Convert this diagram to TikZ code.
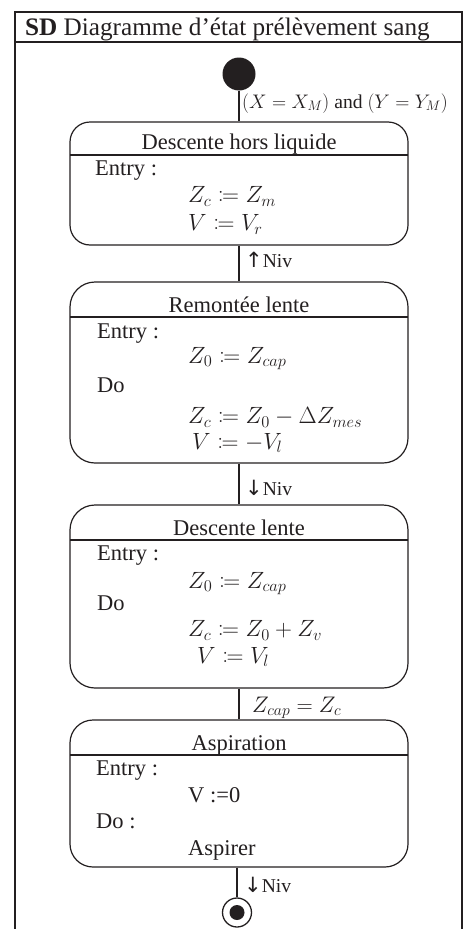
\RequirePackage{fix-cm}
\documentclass[tikz,border=0pt]{standalone}
\usepackage{mathtools}
\usepackage{fontspec}
\setmainfont{Liberation Serif}
\newfontfamily\arrowfont{DejaVu Sans}
\definecolor{ink}{HTML}{231F20}
\begin{document}
\begin{tikzpicture}[x=1pt,y=-1pt,
  frame/.style={draw=ink, line width=1.8pt},
  statebox/.style={draw=ink, line width=1.2pt, rounded corners=#1, minimum width=338pt, inner sep=0pt},
  sep/.style={draw=ink, line width=1.1pt},
  conn/.style={draw=ink, line width=1.3pt},
  txt/.style={anchor=base west, inner sep=0pt, text=ink, font=\fontsize{22.5}{26}\selectfont},
  mtxt/.style={anchor=base west, inner sep=0pt, text=ink, font=\fontsize{23.5}{28}\selectfont},
  ttl/.style={anchor=base, inner sep=0pt, text=ink, font=\fontsize{22.5}{26}\selectfont},
  lbl/.style={anchor=base west, inner sep=0pt, text=ink, font=\fontsize{19.6}{24}\selectfont},
  initial/.style={circle, fill=ink, minimum size=33pt, inner sep=0pt},
  finalring/.style={circle, draw=ink, line width=1.3pt, minimum size=29pt, inner sep=0pt},
  finaldot/.style={circle, fill=ink, minimum size=15pt, inner sep=0pt}
]
\newcommand{\upar}{{\arrowfont\fontsize{21}{24}\selectfont ↑}}
\newcommand{\dnar}{{\arrowfont\fontsize{21}{24}\selectfont ↓}}
\useasboundingbox (0,0) rectangle (464,929);
% frame
\draw[frame] (15,929) -- (15,12) -- (462,12) -- (462,929);
\draw[frame] (15,42) -- (462,42);
\node[anchor=base west, inner sep=0pt, text=ink, font=\fontsize{25.2}{30}\selectfont] (title) at (25,35) {\textbf{SD} Diagramme d’état prélèvement sang};

% initial
\node[initial] (init) at (239,74) {};

% state 1
\node[statebox=20pt, minimum height=123pt] (s1) at (239,183.5) {};
\draw[sep] (70,155) -- (408,155);
\node[ttl] (s1t) at (239,149) {Descente hors liquide};
\node[txt] (s1a) at (95,175) {Entry :};
\node[mtxt] (s1b) at (188,202.5) {$Z_c \coloneqq Z_m$};
\node[mtxt] (s1c) at (188,230.5) {$V \coloneqq V_r$};

% state 2
\node[statebox=25pt, minimum height=181pt] (s2) at (239,372.5) {};
\draw[sep] (70,317) -- (408,317);
\node[ttl] (s2t) at (239,312) {Remontée lente};
\node[txt] (s2a) at (97,338) {Entry :};
\node[mtxt] (s2b) at (188,363) {$Z_0 \coloneqq Z_{cap}$};
\node[txt] (s2c) at (97,392) {Do};
\node[mtxt] (s2d) at (188,423.5) {$Z_c \coloneqq Z_0 - \Delta Z_{mes}$};
\node[mtxt] (s2e) at (192,449) {$V \coloneqq -V_l$};

% state 3
\node[statebox=25pt, minimum height=183pt] (s3) at (239,596.5) {};
\draw[sep] (70,540) -- (408,540);
\node[ttl] (s3t) at (239,535) {Descente lente};
\node[txt] (s3a) at (97,560) {Entry :};
\node[mtxt] (s3b) at (188,588) {$Z_0 \coloneqq Z_{cap}$};
\node[txt] (s3c) at (97,610) {Do};
\node[mtxt] (s3d) at (188,636.5) {$Z_c \coloneqq Z_0 + Z_v$};
\node[mtxt] (s3e) at (197,663) {$V \coloneqq V_l$};

% state 4
\node[statebox=23pt, minimum height=147pt] (s4) at (239,793.5) {};
\draw[sep] (70,755) -- (408,755);
\node[ttl] (s4t) at (239,750) {Aspiration};
\node[txt] (s4a) at (96,775) {Entry :};
\node[txt] (s4b) at (188,802) {V :=0};
\node[txt] (s4c) at (96,828) {Do :};
\node[txt] (s4d) at (188,855) {Aspirer};

% final
\node[finalring] (fin) at (237,912.5) {};
\node[finaldot] (findot) at (fin) {};

% connectors
\draw[conn] (init) -- (s1);
\draw[conn] (s1) -- (s2);
\draw[conn] (s2) -- (s3);
\draw[conn] (s3) -- (s4);
\draw[conn] (s4.south -| fin) -- (fin);

% labels
\node[lbl] (l1) at (242,108) {$(X = X_M)$ and $(Y = Y_M)$};
\node[lbl] (l2) at (245,267) {\upar Niv};
\node[lbl] (l3) at (245,495) {\dnar Niv};
\node[lbl, font=\fontsize{22.5}{26}\selectfont] (l4) at (252,712) {$Z_{cap} = Z_c$};
\node[lbl] (l5) at (244,892) {\dnar Niv};
\end{tikzpicture}
\end{document}
